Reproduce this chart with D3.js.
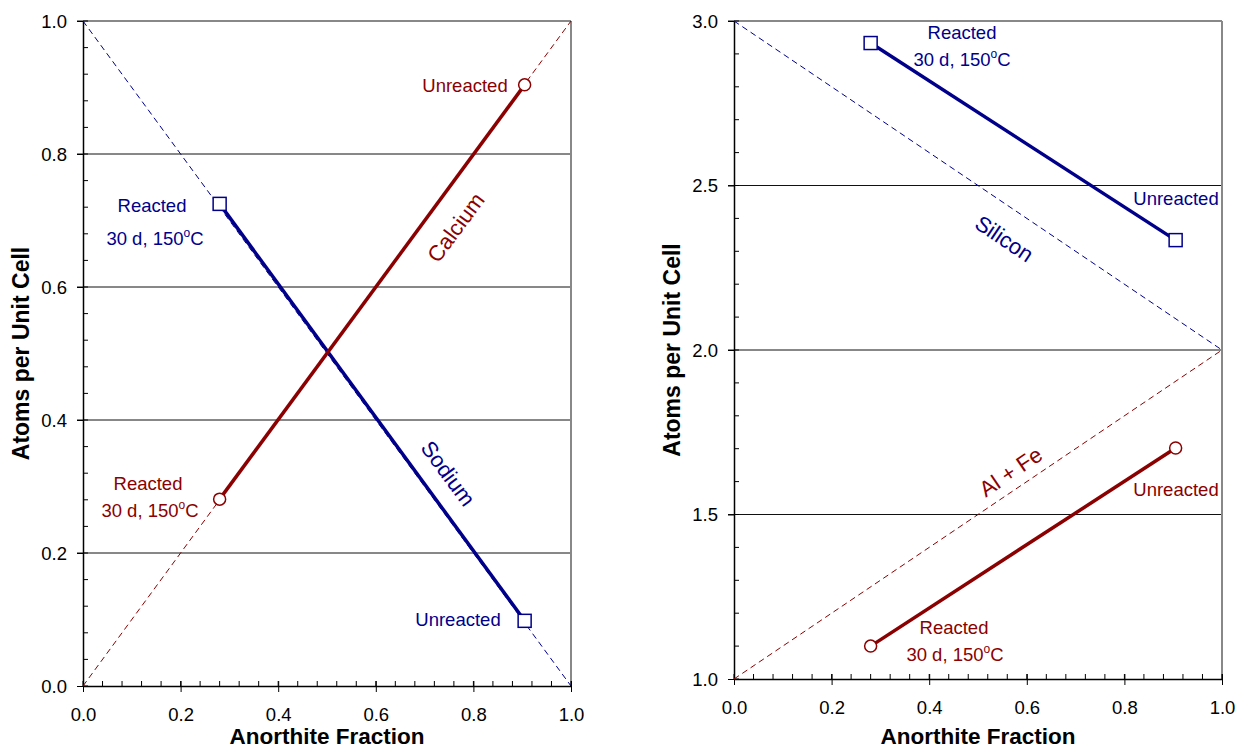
<!DOCTYPE html>
<html>
<head>
<meta charset="utf-8">
<script src="https://cdn.jsdelivr.net/npm/d3@7"></script>
<style>
  body { margin: 0; background: #fff; }
  text { font-family: "Liberation Sans", Arial, sans-serif; }
</style>
</head>
<body>
<script>
// data
const xTicks = [0, 0.2, 0.4, 0.6, 0.8, 1.0]
const leftYTicks = [0, 0.2, 0.4, 0.6, 0.8, 1.0]
const rightYTicks = [1.0, 1.5, 2.0, 2.5, 3.0]

const anorthite = [0.28, 0.905]          // reacted, unreacted
const calcium = [0.281, 0.904]
const sodium = [0.725, 0.098]
const silicon = [2.933, 2.334]
const alFe = [1.100, 1.702]

const naLine = [[0, 1], [1, 0]]
const caLine = [[0, 0], [1, 1]]
const siLine = [[0, 3], [1, 2]]
const alLine = [[0, 1], [1, 2]]

const red = '#8b0000'
const blue = '#00008b'

const svg = d3.select('body').append('svg')
  .attr('width', 1238)
  .attr('height', 751)

function panel (opt) {
  const g = svg.append('g')
  const x = d3.scaleLinear().domain([0, 1]).range([opt.x0, opt.x1])
  const y = d3.scaleLinear().domain(opt.yDomain).range([opt.yb, opt.yt])

  // grid lines
  g.selectAll('.grid').data(opt.yTicks.slice(1, -1)).enter()
    .append('line')
    .attr('x1', opt.x0 - 6).attr('x2', opt.x1)
    .attr('y1', d => y(d)).attr('y2', d => y(d))
    .attr('stroke', '#111').attr('stroke-width', 1)

  // frame: top and right gray
  g.append('line').attr('x1', opt.x0 - 6).attr('x2', opt.x1)
    .attr('y1', opt.yt).attr('y2', opt.yt)
    .attr('stroke', '#888').attr('stroke-width', 2)
  g.append('line').attr('x1', opt.x1).attr('x2', opt.x1)
    .attr('y1', opt.yt).attr('y2', opt.yb)
    .attr('stroke', '#888').attr('stroke-width', 2)

  // minor ticks
  const xMinor = d3.range(0, 1.0001, 0.04)
  g.selectAll('.xminor').data(xMinor).enter().append('line')
    .attr('x1', d => x(d)).attr('x2', d => x(d))
    .attr('y1', opt.yb).attr('y2', opt.yb - 5)
    .attr('stroke', '#000')
  const yMinor = d3.range(opt.yDomain[0], opt.yDomain[1] + 1e-6, opt.yMinorStep)
  g.selectAll('.yminor').data(yMinor).enter().append('line')
    .attr('x1', opt.x0).attr('x2', opt.x0 + 5)
    .attr('y1', d => y(d)).attr('y2', d => y(d))
    .attr('stroke', '#000')

  // axes
  const xAxis = d3.axisBottom(x).tickValues(xTicks).tickFormat(d3.format('.1f'))
    .tickSizeInner(6).tickSizeOuter(0).tickPadding(16)
  const gx = g.append('g').attr('transform', `translate(0,${opt.yb})`).call(xAxis)
  gx.selectAll('.tick line').attr('y1', -5).attr('stroke', '#000')
  gx.select('.domain').attr('stroke', '#000').attr('stroke-width', 1.5)
  gx.selectAll('text').attr('font-size', 18.5).attr('fill', '#000')

  const yAxis = d3.axisLeft(y).tickValues(opt.yTicks).tickFormat(d3.format('.1f'))
    .tickSizeInner(6).tickSizeOuter(0).tickPadding(10)
  const gy = g.append('g').attr('transform', `translate(${opt.x0},0)`).call(yAxis)
  gy.select('.domain').attr('stroke', '#000').attr('stroke-width', 1.5)
  gy.selectAll('.tick line').attr('stroke', '#000')
  gy.selectAll('text').attr('font-size', 18.5).attr('fill', '#000').attr('dy', '0.35em')

  g.append('text')
    .attr('x', (opt.x0 + opt.x1) / 2).attr('y', 744)
    .attr('text-anchor', 'middle').attr('font-size', 22.5).attr('font-weight', 'bold')
    .text('Anorthite Fraction')
  g.append('text')
    .attr('transform', `translate(${opt.titleX},${(opt.yt + opt.yb) / 2}) rotate(-90)`)
    .attr('text-anchor', 'middle').attr('font-size', 23).attr('font-weight', 'bold')
    .text('Atoms per Unit Cell')

  const line = d3.line().x(d => x(d[0])).y(d => y(d[1]))

  // dashed end-member lines
  opt.dashed.forEach(d => {
    g.append('path').datum(d.pts).attr('d', line)
      .attr('fill', 'none').attr('stroke', d.color)
      .attr('stroke-width', 1).attr('stroke-dasharray', '6,4')
  })

  // measured lines + markers
  opt.series.forEach(s => {
    const pts = anorthite.map((a, i) => [a, s.values[i]])
    g.append('path').datum(pts).attr('d', line)
      .attr('fill', 'none').attr('stroke', s.color).attr('stroke-width', 3.5)
    if (s.marker === 'circle') {
      g.selectAll(null).data(pts).enter().append('circle')
        .attr('cx', d => x(d[0])).attr('cy', d => y(d[1])).attr('r', 6)
        .attr('fill', '#fff').attr('stroke', s.color).attr('stroke-width', 1.5)
    } else {
      g.selectAll(null).data(pts).enter().append('rect')
        .attr('x', d => x(d[0]) - 6.5).attr('y', d => y(d[1]) - 6.5)
        .attr('width', 13).attr('height', 13)
        .attr('fill', '#fff').attr('stroke', s.color).attr('stroke-width', 1.5)
    }
  })

  // annotations
  opt.labels.forEach(l => {
    const t = g.append('text')
      .attr('x', l.x).attr('y', l.y)
      .attr('text-anchor', 'middle').attr('font-size', l.size || 18.5)
      .attr('fill', l.color)
    if (l.rot) t.attr('transform', `rotate(${l.rot},${l.x},${l.y})`)
    if (l.deg) {
      t.append('tspan').text('30 d, 150')
      t.append('tspan').attr('dy', -8).attr('font-size', 12).text('o')
      t.append('tspan').attr('dy', 8).text('C')
    } else {
      t.text(l.text)
    }
  })
}

panel({
  x0: 83, x1: 571, yt: 21, yb: 686, titleX: 29,
  yDomain: [0, 1], yTicks: leftYTicks, yMinorStep: 0.04,
  dashed: [{ pts: naLine, color: blue }, { pts: caLine, color: red }],
  series: [
    { values: sodium, color: blue, marker: 'square' },
    { values: calcium, color: red, marker: 'circle' }
  ],
  labels: [
    { x: 465, y: 92, text: 'Unreacted', color: red },
    { x: 152, y: 212, text: 'Reacted', color: blue },
    { x: 155, y: 245, deg: true, color: blue },
    { x: 148, y: 490, text: 'Reacted', color: red },
    { x: 150, y: 517, deg: true, color: red },
    { x: 458, y: 626, text: 'Unreacted', color: blue },
    { x: 462, y: 232, text: 'Calcium', color: red, rot: -53.5, size: 22 },
    { x: 442, y: 478, text: 'Sodium', color: blue, rot: 53.5, size: 22 }
  ]
})

panel({
  x0: 734, x1: 1222, yt: 21, yb: 679, titleX: 680,
  yDomain: [1, 3], yTicks: rightYTicks, yMinorStep: 0.1,
  dashed: [{ pts: siLine, color: blue }, { pts: alLine, color: red }],
  series: [
    { values: silicon, color: blue, marker: 'square' },
    { values: alFe, color: red, marker: 'circle' }
  ],
  labels: [
    { x: 962, y: 39, text: 'Reacted', color: blue },
    { x: 962, y: 66, deg: true, color: blue },
    { x: 1176, y: 205, text: 'Unreacted', color: blue },
    { x: 1176, y: 496, text: 'Unreacted', color: red },
    { x: 954, y: 634, text: 'Reacted', color: red },
    { x: 955, y: 661, deg: true, color: red },
    { x: 1000, y: 245, text: 'Silicon', color: blue, rot: 34, size: 22 },
    { x: 1015, y: 478, text: 'Al + Fe', color: red, rot: -34, size: 22 }
  ]
})
</script>
</body>
</html>
